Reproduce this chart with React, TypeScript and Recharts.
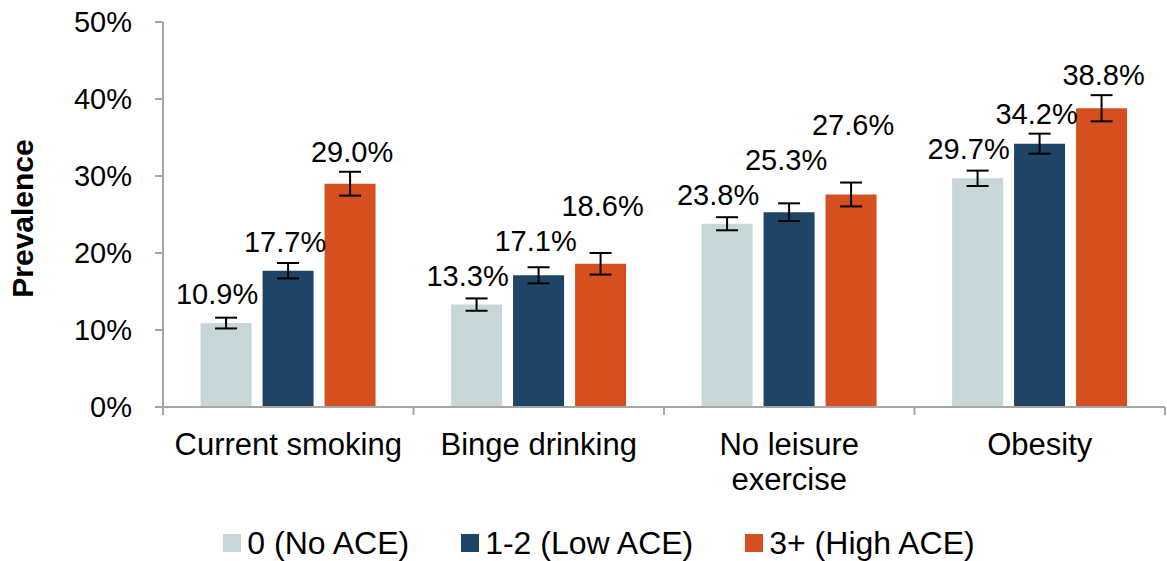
import React from 'react';
import { BarChart, Bar, XAxis, YAxis, Legend, ErrorBar, LabelList } from 'recharts';

const categories = ['Current smoking', 'Binge drinking', 'No leisure exercise', 'Obesity'];
const noAce = [10.9, 13.3, 23.8, 29.7];
const lowAce = [17.7, 17.1, 25.3, 34.2];
const highAce = [29.0, 18.6, 27.6, 38.8];
const noAceErr = [0.7, 0.8, 0.85, 1.0];
const lowAceErr = [1.0, 1.05, 1.15, 1.3];
const highAceErr = [1.55, 1.4, 1.55, 1.7];
const yTicks = [0, 10, 20, 30, 40, 50];

const FONT = '"Liberation Sans", Arial, sans-serif';
const AXIS = '#A6A6A6';
const W = 1167;
const H = 561;
const MARGIN = { top: 22, right: 2, bottom: 0, left: 0 };
const Y_AXIS_W = 163;
const BAND = (W - MARGIN.left - MARGIN.right - Y_AXIS_W) / categories.length;

const series = [
  { key: 'noAce', name: '0 (No ACE)', color: '#C7D7D7', values: noAce, errs: noAceErr, dx: -9 },
  { key: 'lowAce', name: '1-2 (Low ACE)', color: '#1F4566', values: lowAce, errs: lowAceErr, dx: -3 },
  { key: 'highAce', name: '3+ (High ACE)', color: '#D54F1F', values: highAce, errs: highAceErr, dx: 2 },
];

const data = categories.map((name, i) => ({
  name,
  noAce: noAce[i],
  lowAce: lowAce[i],
  highAce: highAce[i],
  noAceErr: noAceErr[i],
  lowAceErr: lowAceErr[i],
  highAceErr: highAceErr[i],
}));

// labels sit above the bar, and get pushed up when they would hit the previous one
const makeLabel = (s: number) => (props: any) => {
  const vb = props.viewBox || props;
  const { x, y, width, height } = vb;
  const i = props.index;
  const v = series[s].values[i];
  const k = height / v;
  const axisY = y + height;
  let prev = Infinity;
  let base = 0;
  for (let j = 0; j <= s; j++) {
    const val = series[j].values[i];
    const naive = Math.min(axisY - val * k - 19, axisY - (val + series[j].errs[i]) * k - 10);
    base = Math.min(naive, prev - 35);
    prev = base;
  }
  return (
    <text x={x + width / 2 + series[s].dx} y={base} textAnchor="middle" fontSize={29} fontFamily={FONT} fill="#000">
      {v.toFixed(1) + '%'}
    </text>
  );
};

// greedy word wrap, roughly 16 characters per line
const wrap = (label: string) => {
  const lines: string[] = [];
  label.split(' ').forEach((w) => {
    const last = lines[lines.length - 1];
    if (last !== undefined && (last + ' ' + w).length <= 16) lines[lines.length - 1] = last + ' ' + w;
    else lines.push(w);
  });
  return lines;
};

const CategoryTick = (props: any) => {
  const { x, y, payload, index } = props;
  const half = BAND / 2;
  const lines = wrap(String(payload.value));
  return (
    <g>
      <line x1={x - half} x2={x - half} y1={y} y2={y + 8} stroke={AXIS} strokeWidth={2} />
      {index === categories.length - 1 && (
        <line x1={x + half} x2={x + half} y1={y} y2={y + 8} stroke={AXIS} strokeWidth={2} />
      )}
      <text x={x} y={y + 48} textAnchor="middle" fontSize={31} fontFamily={FONT} fill="#000">
        {lines.map((l, li) => (
          <tspan key={li} x={x} dy={li === 0 ? 0 : 35}>
            {l}
          </tspan>
        ))}
      </text>
    </g>
  );
};

const YTitle = (props: any) => {
  const vb = props.viewBox || {};
  const cy = vb.y + vb.height / 2 + 4;
  return (
    <text
      x={22}
      y={cy}
      transform={`rotate(-90, 22, ${cy})`}
      textAnchor="middle"
      dominantBaseline="central"
      fontSize={30}
      fontWeight="bold"
      fontFamily={FONT}
      fill="#000"
    >
      Prevalence
    </text>
  );
};

const LegendBox = () => (
  <div
    style={{
      display: 'flex',
      justifyContent: 'center',
      alignItems: 'center',
      height: 36,
      paddingLeft: 33,
      fontFamily: FONT,
      fontSize: 32,
      color: '#000',
    }}
  >
    {series.map((s, i) => (
      <div key={s.key} style={{ display: 'flex', alignItems: 'center', marginLeft: i === 0 ? 0 : 52 }}>
        <span style={{ width: 18, height: 18, background: s.color, display: 'inline-block', marginRight: 6 }} />
        <span>{s.name}</span>
      </div>
    ))}
  </div>
);

export default function App() {
  return (
    <div style={{ position: 'absolute', left: 0, top: 0, background: '#fff' }}>
      <BarChart
        width={W}
        height={H}
        data={data}
        margin={MARGIN}
        barCategoryGap="15%"
        barGap={11}
      >
        <XAxis
          dataKey="name"
          height={118}
          tickLine={false}
          tickSize={0}
          tickMargin={0}
          interval={0}
          axisLine={{ stroke: AXIS, strokeWidth: 2 }}
          tick={<CategoryTick />}
        />
        <YAxis
          width={Y_AXIS_W}
          domain={[0, 50]}
          ticks={yTicks}
          tickFormatter={(v: number) => `${v}%`}
          tickSize={8}
          tickMargin={23}
          axisLine={{ stroke: AXIS, strokeWidth: 2 }}
          tickLine={{ stroke: AXIS, strokeWidth: 2 }}
          tick={{ fontSize: 29, fill: '#000', fontFamily: FONT }}
          label={<YTitle />}
        />
        <Legend verticalAlign="bottom" height={36} content={<LegendBox />} />
        {series.map((s, si) => (
          <Bar key={s.key} dataKey={s.key} name={s.name} fill={s.color} isAnimationActive={false}>
            <ErrorBar dataKey={s.key + 'Err'} width={11} stroke="#000" strokeWidth={2} isAnimationActive={false} />
            <LabelList dataKey={s.key} content={makeLabel(si)} />
          </Bar>
        ))}
      </BarChart>
    </div>
  );
}
